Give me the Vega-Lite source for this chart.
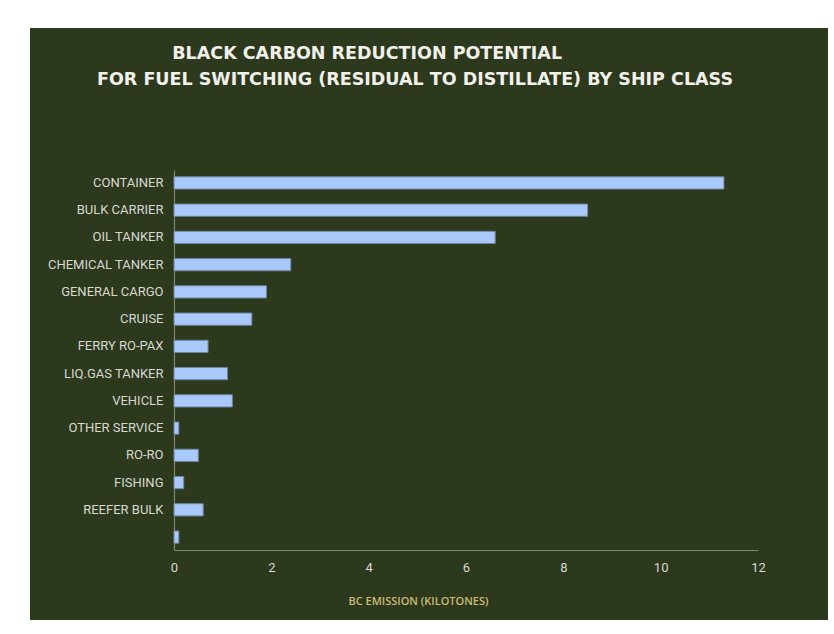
{
  "$schema": "https://vega.github.io/schema/vega-lite/v6.json",
  "width": 798,
  "height": 592,
  "autosize": {"type": "none"},
  "padding": {"left": 30, "top": 28, "right": 6, "bottom": 14},
  "background": "#ffffff",
  "title": {
    "text": ["BLACK CARBON REDUCTION POTENTIAL\u2800\u2800\u2800\u2800\u2800\u2800\u2800", "FOR FUEL SWITCHING (RESIDUAL TO DISTILLATE) BY SHIP CLASS"],
    "anchor": "middle",
    "frame": "group",
    "font": "DejaVu Sans",
    "fontSize": 17.5,
    "fontWeight": "bold",
    "color": "#f2f0ea",
    "lineHeight": 26,
    "baseline": "top",
    "offset": -60,
    "dx": -14
  },
  "data": {
    "values": [
      {"ship": "CONTAINER", "bc": 11.3},
      {"ship": "BULK CARRIER", "bc": 8.5},
      {"ship": "OIL TANKER", "bc": 6.6},
      {"ship": "CHEMICAL TANKER", "bc": 2.4},
      {"ship": "GENERAL CARGO", "bc": 1.9},
      {"ship": "CRUISE", "bc": 1.6},
      {"ship": "FERRY RO-PAX", "bc": 0.7},
      {"ship": "LIQ.GAS TANKER", "bc": 1.1},
      {"ship": "VEHICLE", "bc": 1.2},
      {"ship": "OTHER SERVICE", "bc": 0.1},
      {"ship": "RO-RO", "bc": 0.5},
      {"ship": "FISHING", "bc": 0.2},
      {"ship": "REEFER BULK", "bc": 0.6},
      {"ship": " ", "bc": 0.1}
    ]
  },
  "mark": {"type": "bar", "fill": "#a8c9fa", "stroke": "#6f839c", "strokeWidth": 1},
  "encoding": {
    "y": {
      "field": "ship",
      "type": "nominal",
      "sort": null,
      "scale": {"range": [142, 522], "paddingInner": 0.55, "paddingOuter": 0.25},
      "axis": {
        "title": null,
        "orient": "left",
        "offset": -144,
        "ticks": false,
        "labelPadding": 11,
        "labelFont": "Roboto",
        "labelFontSize": 13,
        "labelColor": "#d8d8cf",
        "domainColor": "#7f8873",
        "domainWidth": 1.2
      }
    },
    "x": {
      "field": "bc",
      "type": "quantitative",
      "scale": {"domain": [0, 12], "range": [144, 728], "nice": false},
      "axis": {
        "title": "BC EMISSION (KILOTONES)",
        "values": [0, 2, 4, 6, 8, 10, 12],
        "offset": -70,
        "grid": false,
        "ticks": false,
        "labelFlush": false,
        "labelPadding": 11,
        "labelFont": "Roboto",
        "labelFontSize": 13,
        "labelColor": "#d8d8cf",
        "domainColor": "#7f8873",
        "domainWidth": 1.2,
        "titleFont": "Open Sans",
        "titleFontSize": 11,
        "titleFontWeight": 600,
        "titleColor": "#cdbb74",
        "titleX": 388,
        "titleY": 51,
        "titleBaseline": "middle",
        "titleAlign": "center"
      }
    }
  },
  "config": {
    "view": {"fill": "#2c391d", "stroke": null}
  }
}
